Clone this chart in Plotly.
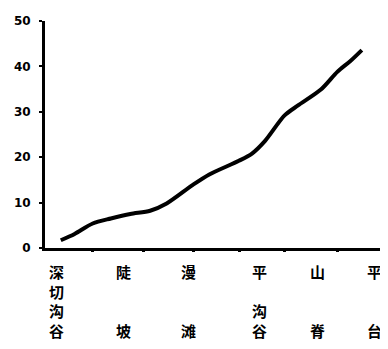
import plotly.graph_objects as go

# distance along the profile (arbitrary units, 0-100) and percentage values
dist = [4.7, 8.8, 14.2, 19.6, 25.4, 31.3, 36.2, 44.0, 48.9, 57.7, 61.6, 65.5, 71.3, 75.3, 82.1, 87.0, 90.9, 94.3]
pct = [1.7, 3.1, 5.4, 6.5, 7.5, 8.2, 9.8, 13.9, 16.2, 19.2, 20.8, 23.6, 29.2, 31.4, 34.9, 38.8, 41.2, 43.6]

label_pos = [3.5, 23.5, 42.8, 63.9, 81.2, 98.2]
label_text = ["深<br>切<br>沟<br>谷", "陡<br><br><br>坡", "漫<br><br><br>滩",
              "平<br><br>沟<br>谷", "山<br><br><br>脊", "平<br><br><br>台"]
tick_pos = [14.1, 29.3, 44.3, 57.8, 71.3, 87.1]
y_ticks = [0, 10, 20, 30, 40, 50]

fig = go.Figure()
fig.add_trace(go.Scatter(x=dist, y=pct, mode="lines",
                         line=dict(color="black", width=4, shape="spline", smoothing=0.8),
                         hoverinfo="skip", showlegend=False))
fig.add_trace(go.Scatter(x=[0], y=[0], xaxis="x2", mode="markers",
                         marker=dict(opacity=0), hoverinfo="skip", showlegend=False))

for xp, txt in zip(label_pos, label_text):
    fig.add_annotation(x=xp, xref="x", y=0, yref="paper", yanchor="top", xanchor="center",
                       yshift=-12, text=txt, showarrow=False, align="center", borderpad=0,
                       font=dict(family="Noto Sans CJK SC", size=15, color="black", weight="bold"))

fig.update_layout(
    width=380, height=341,
    margin=dict(l=32, r=7, t=6, b=101),
    paper_bgcolor="white", plot_bgcolor="white",
    xaxis=dict(range=[0, 100], showgrid=False, zeroline=False,
               showline=True, linecolor="black", linewidth=3,
               showticklabels=False, ticks=""),
    xaxis2=dict(range=[0, 100], overlaying="x", side="bottom", anchor="y",
                showgrid=False, zeroline=False, showline=False,
                tickvals=tick_pos, ticks="outside", ticklen=3, tickwidth=3,
                tickcolor="black", showticklabels=False),
    yaxis=dict(range=[0, 50], showgrid=False, zeroline=False,
               showline=True, linecolor="black", linewidth=3,
               tickvals=y_ticks, ticks="outside", ticklen=3, tickwidth=2, tickcolor="black",
               ticklabelstandoff=6, ticklabeloverflow="allow",
               tickfont=dict(family="DejaVu Sans", size=12, color="black", weight="bold")),
)

fig.write_html("out.html")
